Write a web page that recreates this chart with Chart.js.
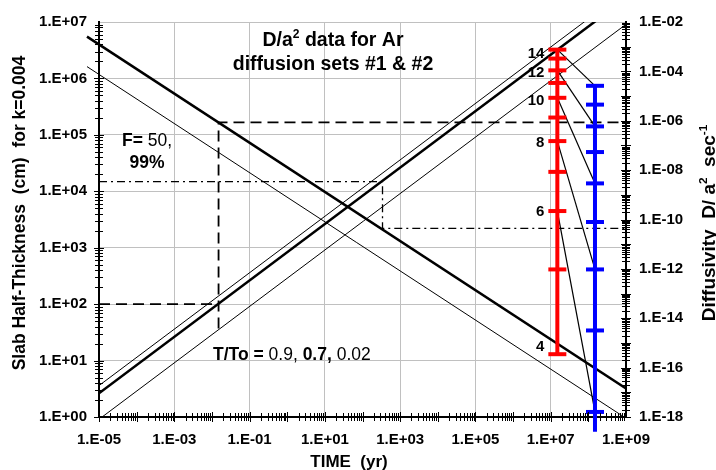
<!DOCTYPE html>
<html>
<head>
<meta charset="utf-8">
<script src="https://cdn.jsdelivr.net/npm/chart.js"></script>
<style>
  html, body { margin: 0; padding: 0; background: #fff; }
  #wrap { width: 716px; height: 470px; }
</style>
</head>
<body>
<div id="wrap"><canvas id="chart" width="716" height="470"></canvas></div>
<script>
// labelled ticks
const timeTicks = [1e-5, 1e-3, 1e-1, 1e1, 1e3, 1e5, 1e7, 1e9];
const slabTicks = [1, 1e1, 1e2, 1e3, 1e4, 1e5, 1e6, 1e7];
const diffTicks = [1e-18, 1e-16, 1e-14, 1e-12, 1e-10, 1e-8, 1e-6, 1e-4, 1e-2];

// T/To = 0.9, 0.7, 0.02 lines (end points)
const riseTime = [1e-5, 1e9];
const rise09 = [3.6, 3.6e7];
const rise07 = [2.63, 2.63e7];
const rise002 = [0.91, 0.91e7];

// falling lines, start a bit left of the axis like the original
const fallTime = [4.8e-6, 1e9];
const fallThick = [5.5e6, 3.2];
const fallThin = [1.62e6, 0.95];

// F = 50, 99% construction (dashed)
const dashLowTime = [1e-5, 0.015];
const dashLowSlab = [100, 100];
const dashHighTime = [0.015, 0.015, 1e9];
const dashHighSlab = [37, 1.66e5, 1.66e5];

// dash-dot construction
const dotTime = [1e-5, 340, 340, 1e9];
const dotSlab = [1.48e4, 1.48e4, 2.2e3, 2.2e3];

// D/a2 steps: set #1 (red), set #2 (blue)
const redTime = 1.5e7;
const redSteps = [14, 13, 12, 11, 10, 9, 8, 7, 6, 5, 4];
const redDa2 = [7.6e-4, 3.3e-4, 1.1e-4, 3.4e-5, 8.5e-6, 1.35e-6, 1.5e-7, 8.5e-9, 2.2e-10, 9.5e-13, 3.5e-16];
const blueTime = 1.5e8;
const blueDa2 = [2.6e-5, 4.5e-6, 5.9e-7, 5.4e-8, 2.9e-9, 7.9e-11, 9.5e-13, 3.2e-15, 1.6e-18, 2.5e-19];
// red step -> blue point
const linkSteps = [14, 12, 10, 8, 6];
const linkBlue = [0, 2, 4, 6, 8];
const labelSteps = [14, 12, 10, 8, 6, 4];
const labelDy = [8, 7, 7, 6, 5, -3];

const FONT = '"Liberation Sans", Arial, sans-serif';

function fmtExp(v) {
  const e = Math.round(Math.log10(v));
  const s = e < 0 ? '-' : '+';
  const a = Math.abs(e);
  return '1.E' + s + (a < 10 ? '0' + a : a);
}

function line(xs, ys, width, dash, clip) {
  return {
    data: xs.map((x, i) => ({ x: x, y: ys[i] })),
    yAxisID: 'y',
    showLine: true,
    borderColor: '#000',
    borderWidth: width,
    borderDash: dash || [],
    pointRadius: 0,
    fill: false,
    order: 1,
    clip: clip
  };
}

const datasets = [
  line(riseTime, rise09, 1),
  line(riseTime, rise07, 2.5),
  line(riseTime, rise002, 1),
  line(fallTime, fallThick, 2.5, [], { left: 14, top: 0, right: 0, bottom: 0 }),
  line(fallTime, fallThin, 1, [], { left: 14, top: 0, right: 0, bottom: 0 }),
  line(dashLowTime, dashLowSlab, 1.8, [11, 6]),
  line(dashHighTime, dashHighSlab, 1.8, [11, 6]),
  line(dotTime, dotSlab, 1.3, [8, 4, 2, 4])
];

// black links from red steps to blue points
linkSteps.forEach((st, i) => {
  const r = redSteps.indexOf(st);
  datasets.push({
    data: [{ x: redTime, y: redDa2[r] }, { x: blueTime, y: blueDa2[linkBlue[i]] }],
    yAxisID: 'y2', showLine: true, borderColor: '#000', borderWidth: 1.2,
    pointRadius: 0, order: 1
  });
});

datasets.push({
  data: redDa2.map(v => ({ x: redTime, y: v })),
  yAxisID: 'y2', showLine: true, borderColor: '#ff0000', borderWidth: 4,
  pointStyle: 'line', pointRadius: 9, pointBorderWidth: 4,
  pointBorderColor: '#ff0000', order: 0
});
datasets.push({
  data: blueDa2.map(v => ({ x: blueTime, y: v })),
  yAxisID: 'y2', showLine: true, borderColor: '#0000ff', borderWidth: 4,
  pointStyle: 'line', pointRadius: blueDa2.map((v, i) => i === blueDa2.length - 1 ? 0 : 9),
  pointBorderWidth: 4, pointBorderColor: '#0000ff', order: 0,
  clip: { left: 0, top: 0, right: 0, bottom: 16 }
});

// crossing tick marks on the three axes
const axisTicks = {
  id: 'axisTicks',
  afterDraw(chart) {
    const ctx = chart.ctx, a = chart.chartArea;
    const sx = chart.scales.x, sy = chart.scales.y, s2 = chart.scales.y2;
    ctx.save();
    ctx.strokeStyle = '#000';
    ctx.lineWidth = 1;
    ctx.beginPath();
    for (let d = -5; d < 9; d++) {
      for (let m = 1; m < 10; m++) {
        const px = Math.round(sx.getPixelForValue(m * Math.pow(10, d))) + 0.5;
        const h = m === 1 ? 5 : 4;
        ctx.moveTo(px, a.bottom - h); ctx.lineTo(px, a.bottom + h);
      }
    }
    for (let d = 0; d < 7; d++) {
      for (let m = 1; m < 10; m++) {
        const py = Math.round(sy.getPixelForValue(m * Math.pow(10, d))) + 0.5;
        const h = m === 1 ? 5 : 4;
        ctx.moveTo(a.left - h, py); ctx.lineTo(a.left + h, py);
      }
    }
    for (let d = -18; d < -2; d++) {
      for (let m = 1; m < 10; m++) {
        const py = Math.round(s2.getPixelForValue(m * Math.pow(10, d))) + 0.5;
        const h = m === 1 ? 5 : 4;
        ctx.moveTo(a.right - h, py); ctx.lineTo(a.right + h, py);
      }
    }
    ctx.stroke();
    ctx.restore();
  }
};

// mixed bold / normal / superscript text; parts = [text, bold, sup]
function rich(ctx, parts, x, y, size, align) {
  const fontOf = p => (p[1] ? 'bold ' : '') + (p[2] ? size * 0.62 : size) + 'px ' + FONT;
  let w = 0;
  parts.forEach(p => { ctx.font = fontOf(p); w += ctx.measureText(p[0]).width; });
  let cx = align === 'center' ? x - w / 2 : align === 'right' ? x - w : x;
  ctx.textAlign = 'left';
  ctx.textBaseline = 'alphabetic';
  parts.forEach(p => {
    ctx.font = fontOf(p);
    ctx.fillText(p[0], cx, p[2] ? y - size * 0.42 : y);
    cx += ctx.measureText(p[0]).width;
  });
}

const notes = {
  id: 'notes',
  afterDraw(chart) {
    const ctx = chart.ctx;
    const sx = chart.scales.x, s2 = chart.scales.y2;
    ctx.save();
    ctx.fillStyle = '#000';

    rich(ctx, [['D/a', true], ['2', true, true], [' data for Ar', true]], 333, 46, 19.5, 'center');
    rich(ctx, [['diffusion sets #1 & #2', true]], 333, 70, 19.5, 'center');
    rich(ctx, [['F= ', true], ['50,', false]], 147, 146, 17.5, 'center');
    rich(ctx, [['99%', true]], 147, 168, 17.5, 'center');
    rich(ctx, [['T/To = ', true], ['0.9, ', false], ['0.7, ', true], ['0.02', false]], 213, 360, 17.5, 'left');

    // step numbers next to the red set
    const rx = sx.getPixelForValue(redTime) - 13;
    labelSteps.forEach((st, i) => {
      const py = s2.getPixelForValue(redDa2[redSteps.indexOf(st)]) + labelDy[i];
      rich(ctx, [[String(st), true]], rx, py, 15, 'right');
    });

    // axis titles
    rich(ctx, [['TIME  (yr)', true]], 349, 467, 17, 'center');

    ctx.save();
    ctx.translate(25, 213);
    ctx.rotate(-Math.PI / 2);
    rich(ctx, [['Slab Half-Thickness  (cm)  for k=0.004', true]], 0, 0, 17.5, 'center');
    ctx.restore();

    ctx.save();
    ctx.translate(715, 223);
    ctx.rotate(-Math.PI / 2);
    rich(ctx, [['Diffusivity  D/ a', true], ['2', true, true], ['  sec', true], ['-1', true, true]], 0, 0, 19, 'center');
    ctx.restore();

    ctx.restore();
  }
};

const tickFont = { family: FONT, size: 15, weight: 'bold' };

new Chart(document.getElementById('chart'), {
  type: 'scatter',
  data: { datasets: datasets },
  options: {
    responsive: false,
    animation: false,
    devicePixelRatio: 1,
    layout: { padding: { top: 16, left: 0, right: 0, bottom: 0 } },
    plugins: { legend: { display: false }, tooltip: { enabled: false } },
    scales: {
      x: {
        type: 'logarithmic',
        position: 'bottom',
        min: 1e-5,
        max: 1e9,
        afterBuildTicks: s => { s.ticks = timeTicks.map(v => ({ value: v })); },
        afterFit: s => { s.height = 53; },
        ticks: { callback: v => fmtExp(v), font: tickFont, color: '#000', padding: 14, maxRotation: 0, autoSkip: false },
        grid: { color: '#c0c0c0', lineWidth: 1, drawTicks: false },
        border: { color: '#000', width: 2 }
      },
      y: {
        type: 'logarithmic',
        position: 'left',
        min: 1,
        max: 1e7,
        afterBuildTicks: s => { s.ticks = slabTicks.map(v => ({ value: v })); },
        afterFit: s => { s.width = 99; },
        ticks: { callback: v => fmtExp(v), font: tickFont, color: '#000', padding: 12, autoSkip: false },
        grid: { color: '#c0c0c0', lineWidth: 1, drawTicks: false },
        border: { color: '#000', width: 2 }
      },
      y2: {
        type: 'logarithmic',
        position: 'right',
        min: 1e-18,
        max: 1e-2,
        afterBuildTicks: s => { s.ticks = diffTicks.map(v => ({ value: v })); },
        afterFit: s => { s.width = 90; },
        ticks: { callback: v => fmtExp(v), font: tickFont, color: '#000', padding: 13, autoSkip: false },
        grid: { drawOnChartArea: false, drawTicks: false },
        border: { color: '#000', width: 2 }
      }
    }
  },
  plugins: [axisTicks, notes]
});
</script>
</body>
</html>
